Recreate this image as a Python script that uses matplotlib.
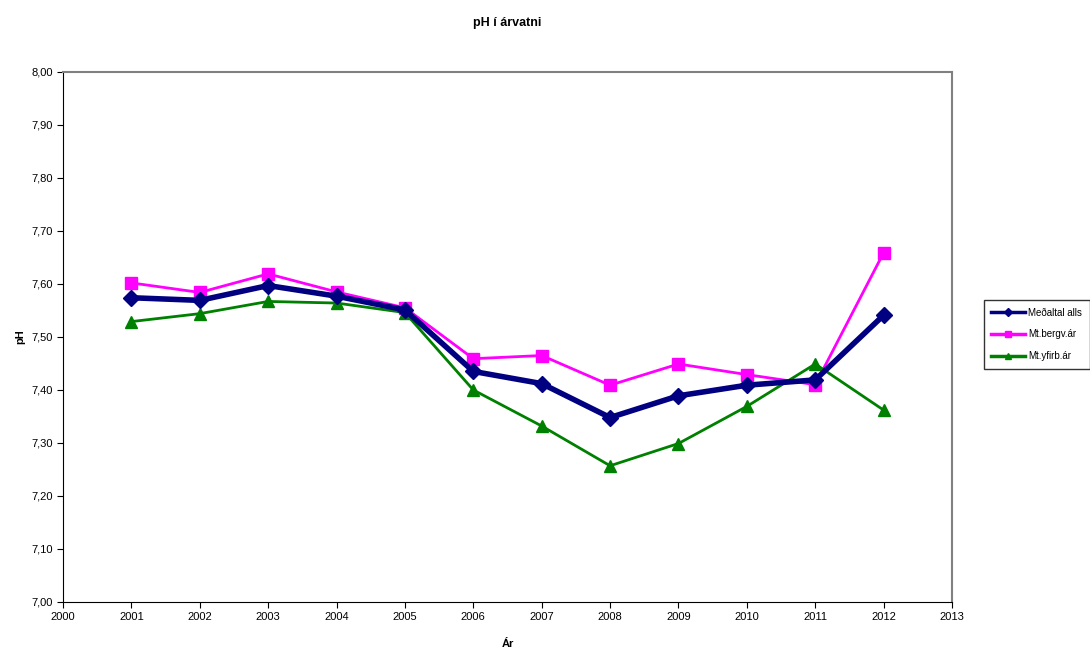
import matplotlib
matplotlib.use('Agg')
import matplotlib.pyplot as plt
from matplotlib.ticker import FuncFormatter

plt.rcParams['font.family'] = ['Liberation Sans', 'DejaVu Sans']

years = [2001, 2002, 2003, 2004, 2005, 2006, 2007, 2008, 2009, 2010, 2011, 2012]
medaltal = [7.574, 7.569, 7.597, 7.577, 7.551, 7.435, 7.412, 7.348, 7.389, 7.409, 7.419, 7.541]
bergv = [7.602, 7.584, 7.619, 7.585, 7.555, 7.459, 7.465, 7.409, 7.449, 7.429, 7.410, 7.659]
yfirb = [7.529, 7.544, 7.567, 7.564, 7.546, 7.400, 7.332, 7.257, 7.299, 7.369, 7.449, 7.362]

fig = plt.figure(figsize=(10.9, 6.48), dpi=100)
ax = fig.add_axes([0.0578, 0.071, 0.8156, 0.818])

ax.plot(years, medaltal, color='#000080', lw=4, marker='D', ms=8, label='Meðaltal alls', zorder=3)
ax.plot(years, bergv, color='#FF00FF', lw=2, marker='s', ms=9, label='Mt.bergv.ár', zorder=2)
ax.plot(years, yfirb, color='#008000', lw=2, marker='^', ms=9, label='Mt.yfirb.ár', zorder=2)

ax.set_xlim(2000, 2013)
ax.set_ylim(7.0, 8.0)
ax.set_xticks(range(2000, 2014))
ax.set_yticks([7.0 + 0.1 * i for i in range(11)])
ax.yaxis.set_major_formatter(FuncFormatter(lambda v, p: f'{v:.2f}'.replace('.', ',')))
ax.tick_params(labelsize=8, length=4, direction='out')

for s in ['top', 'right']:
    ax.spines[s].set_color('#808080')
    ax.spines[s].set_linewidth(1.5)

ax.set_title('pH í árvatni', fontsize=9, fontweight='bold', pad=33)
ax.set_xlabel('Ár', fontsize=8, fontweight='bold', labelpad=12)
ax.set_ylabel('pH', fontsize=8, fontweight='bold', labelpad=4)

leg = ax.legend(loc='center left', bbox_to_anchor=(1.03, 0.505), fontsize=7, frameon=True,
                fancybox=False, edgecolor='black', handlelength=3.5, markerscale=0.5,
                borderpad=0.8, labelspacing=1.2, handletextpad=0.3)
leg.get_frame().set_linewidth(1)
for ln in leg.get_lines():
    ln.set_linewidth(2.5)

fig.savefig('out.png', dpi=100)
